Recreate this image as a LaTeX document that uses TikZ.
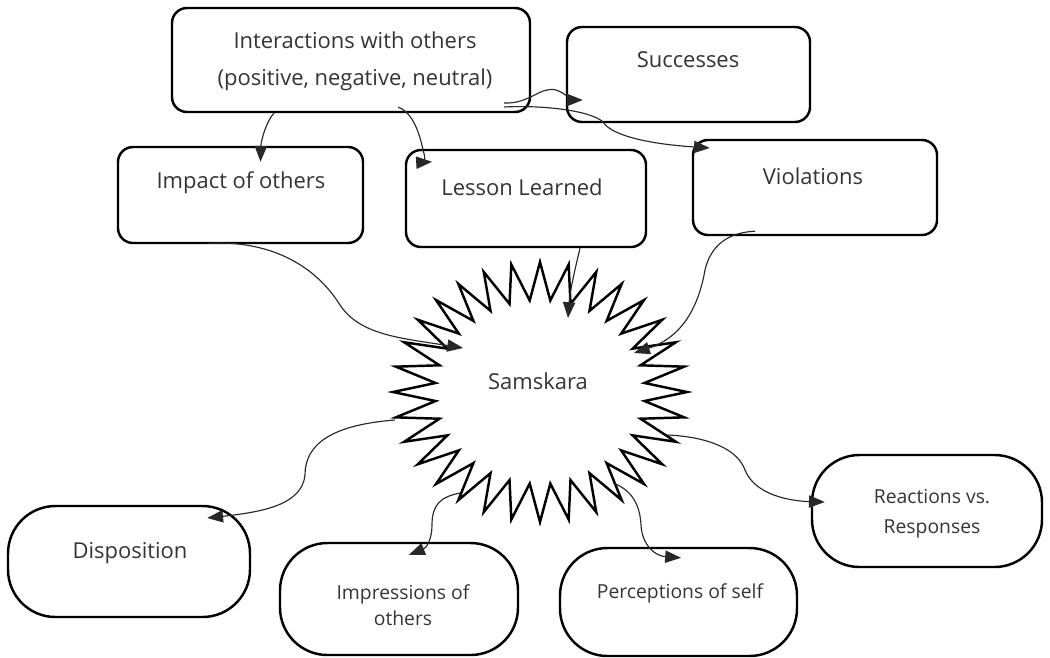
\documentclass[tikz,border=0pt]{standalone}
\usepackage{fontspec}
\setmainfont{Open Sans}
\usetikzlibrary{arrows.meta,calc}
\definecolor{txtgray}{RGB}{52,52,52}
\definecolor{lngray}{RGB}{40,40,40}
\tikzset{
  box/.style={draw=black, line width=1.4pt, rounded corners=0.3cm, inner sep=0pt},
  pill/.style={draw=black, line width=1.4pt, rounded corners=0.95cm, inner sep=0pt},
  txt/.style={text=txtgray, align=center, inner sep=0pt, font=\fontsize{12.5}{15}\selectfont},
  stxt/.style={text=txtgray, align=center, inner sep=0pt, font=\fontsize{11}{15}\selectfont},
  starline/.style={draw=black, line width=1.4pt, line join=miter},
  conn/.style={draw=lngray, line width=0.65pt, -{Triangle[length=9pt,width=7pt]}}
}
\begin{document}
\begin{tikzpicture}[x=0.02cm, y=-0.02cm]
\useasboundingbox (0,0) rectangle (1050,657);

% boxes
\node[box, minimum width={358*0.02cm}, minimum height={104*0.02cm}] (inter) at (351,60) {};
\node[box, minimum width={243*0.02cm}, minimum height={95*0.02cm}] (succ) at (688.5,74.5) {};
\node[box, minimum width={245*0.02cm}, minimum height={96*0.02cm}] (impact) at (240.5,195) {};
\node[box, minimum width={240*0.02cm}, minimum height={97*0.02cm}] (lesson) at (526,198.5) {};
\node[box, minimum width={244*0.02cm}, minimum height={95*0.02cm}] (viol) at (815,187.5) {};
\node[pill, minimum width={242*0.02cm}, minimum height={111*0.02cm}] (disp) at (129,561.5) {};
\node[pill, minimum width={238*0.02cm}, minimum height={112*0.02cm}] (impr) at (399,599) {};
\node[pill, minimum width={237*0.02cm}, minimum height={108*0.02cm}] (perc) at (678.5,602) {};
\node[pill, minimum width={230*0.02cm}, minimum height={112*0.02cm}] (react) at (927,511) {};

% texts
\node[txt, font=\fontsize{12.5}{21}\selectfont] (tinter) at (355,61.5) {Interactions with others\\(positive, negative, neutral)};
\node[txt] (tsucc) at (688,60) {Successes};
\node[txt] (timpact) at (241,183) {Impact of others};
\node[txt] (tlesson) at (522,187) {Lesson Learned};
\node[txt] (tviol) at (813,176) {Violations};
\node[txt] (tdisp) at (130,553) {Disposition};
\node[stxt, font=\fontsize{11}{15}\selectfont] (timpr) at (403,605) {Impressions of\\others};
\node[stxt] (tperc) at (680,593) {Perceptions of self};
\node[stxt, font=\fontsize{11}{17}\selectfont] (treact) at (932,514) {Reactions vs.\\Responses};

% starburst
\coordinate (starc) at (540,392);
\draw[starline] plot[samples at={0,...,63}, variable=\i]
  ({540+ifthenelse(mod(\i,2)==0,147,105)*cos(\i*5.625)},
   {392+ifthenelse(mod(\i,2)==0,130,92)*sin(\i*5.625)}) -- cycle;
\node[txt] (sam) at (538,381) {Samskara};

% connectors
\draw[conn] ($(inter.south)+(-77,0)$) .. controls (267,120) and (261,140) .. ($(impact.north)+(20,16)$);
\draw[conn] ($(inter.south)+(47,-6)$) .. controls (413,112) and (420,135) .. (423,150) .. controls (425,158) and (428,162) .. ($(lesson.north)+(-94,13)$);
\draw[conn] ($(inter.east)+(-27,43)$) .. controls (530,104) and (540,86) .. (556,90) .. controls (565,93) and (572,100) .. ($(succ.west)+(17,25.5)$);
\draw[conn] ($(inter.east)+(-27,47)$) .. controls (540,105) and (590,110) .. (603,122) .. controls (612,136) and (650,144) .. ($(viol.west)+(18,-39.5)$);
\draw[conn] ($(impact.south)+(-33,-1)$) .. controls (270,240) and (315,265) .. (340,305) .. controls (360,335) and (400,338) .. ($(starc)+(-77,-44)$);
\draw[conn] ($(lesson.south)+(54,0)$) .. controls (576,265) and (570,290) .. ($(starc)+(28,-74)$);
\draw[conn] ($(viol.south)+(-60,-5)$) .. controls (735,232) and (712,240) .. (705,270) .. controls (698,310) and (680,338) .. ($(starc)+(94,-39)$);
\draw[conn] ($(starc)+(-145,28)$) .. controls (330,425) and (305,445) .. (305,475) .. controls (302,505) and (262,512) .. ($(disp.east)+(-44,-43.5)$);
\draw[conn] ($(starc)+(-80,101)$) .. controls (440,497) and (432,505) .. (432,525) .. controls (432,540) and (426,548) .. ($(impr.north)+(10,13)$);
\draw[conn] ($(starc)+(73,91)$) .. controls (632,490) and (640,505) .. (641,525) .. controls (642,545) and (655,556) .. ($(perc.north)+(2.5,11)$);
\draw[conn] ($(starc)+(128,43)$) .. controls (710,437) and (738,450) .. (745,470) .. controls (755,495) and (790,501) .. ($(react.west)+(14,-9)$);
\end{tikzpicture}
\end{document}
